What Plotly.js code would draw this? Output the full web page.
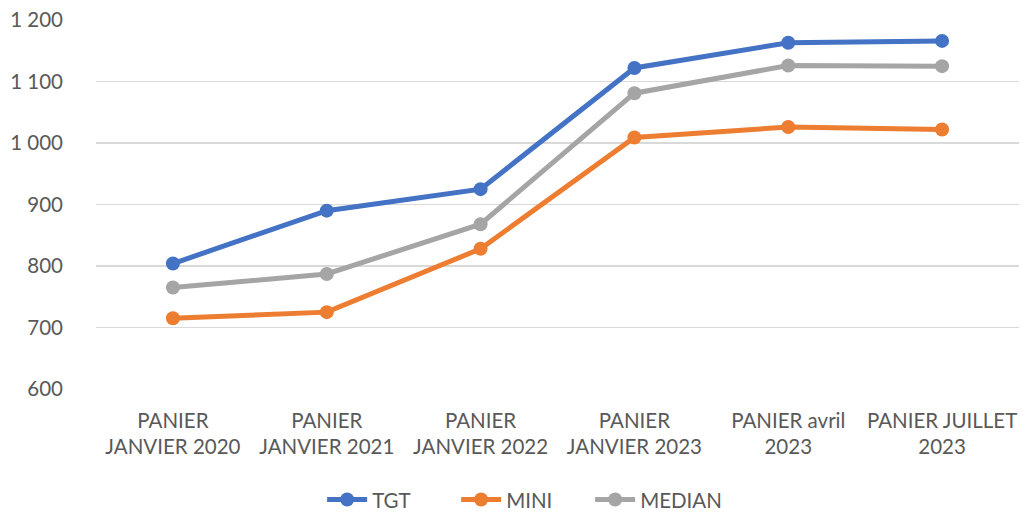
<!DOCTYPE html>
<html><head><meta charset="utf-8">
<script src="https://cdn.plot.ly/plotly-3.0.1.min.js"></script>
<style>html,body{margin:0;padding:0;background:#fff;}#chart{width:1022px;height:518px;}</style>
</head><body><div id="chart"></div>
<script>
const categories = ["PANIER<br>JANVIER 2020","PANIER<br>JANVIER 2021","PANIER<br>JANVIER 2022","PANIER<br>JANVIER 2023","PANIER avril<br>2023","PANIER JUILLET<br>2023"];
const tgt = [804, 890, 925, 1122, 1163, 1166];
const mini = [715, 725, 828, 1009, 1026, 1022];
const median = [765, 787, 868, 1081, 1126, 1125];
const seriesNames = ["TGT","MINI","MEDIAN"];
const colors = ["#4472C4","#ED7D31","#A5A5A5"];
const vals = [tgt, mini, median];
const font = "Lato, 'Open Sans', sans-serif";
const traces = vals.map((v,i)=>({
  x: categories, y: v, name: seriesNames[i], type:'scatter', mode:'lines+markers',
  line:{color:colors[i], width:5}, marker:{color:colors[i], size:14}
}));
const layout = {
  width:1022, height:518,
  margin:{l:96, r:3, t:19.5, b:128.7, autoexpand:false},
  paper_bgcolor:'#fff', plot_bgcolor:'#fff',
  separators:', ',
  font:{family:font, size:20.5, color:'#595959'},
  xaxis:{type:'category', range:[-0.5,5.5], autorange:false, showgrid:false, zeroline:false, showline:false, ticks:'', tickfont:{size:20.5,color:'#595959'}, ticklabelstandoff:17, fixedrange:true, automargin:false},
  yaxis:{range:[600,1200], dtick:100, tick0:600, separatethousands:true, tickformat:',d', gridcolor:'#D9D9D9', gridwidth:1.3, zeroline:false, showline:false, ticks:'', ticklabelstandoff:32, tickfont:{size:20.5,color:'#595959'}, fixedrange:true, automargin:false},
  showlegend:true,
  legend:{orientation:'h', x:0.245, xanchor:'left', y:-0.3, yanchor:'middle', font:{size:20.5,color:'#595959'}, itemwidth:40, entrywidth:79, entrywidthmode:'pixels', traceorder:'normal'}
};
Plotly.newPlot('chart', traces, layout, {displayModeBar:false, staticPlot:true});
</script></body></html>
